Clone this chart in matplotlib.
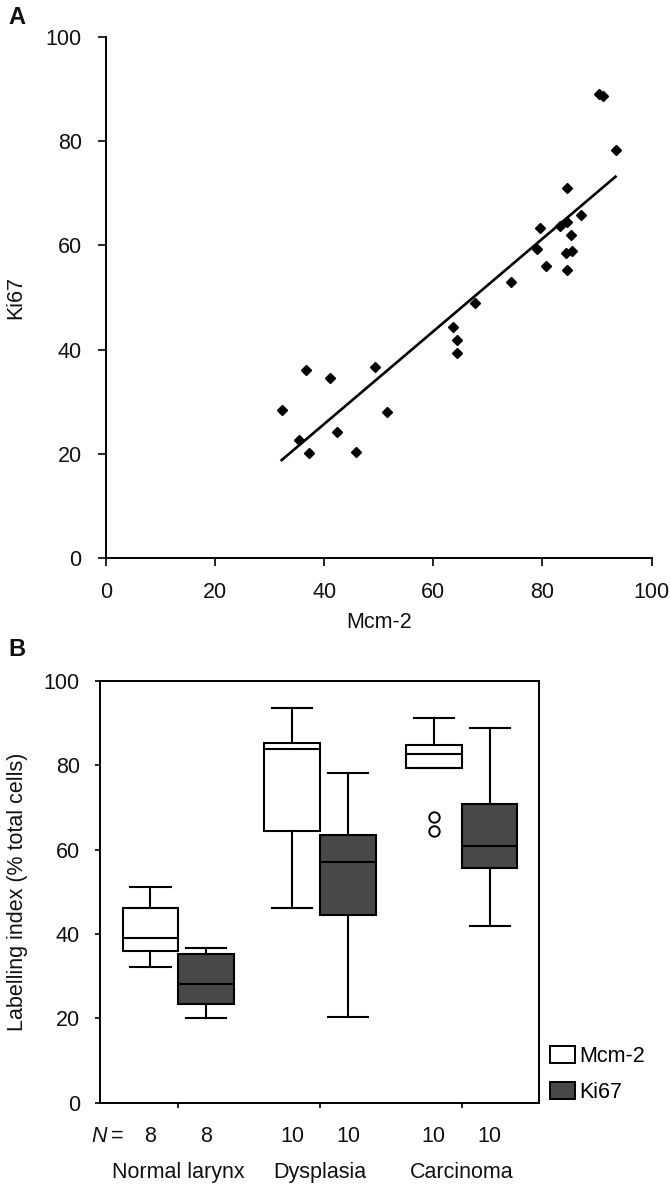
import numpy as np
import matplotlib
matplotlib.use("Agg")
import matplotlib.pyplot as plt
from matplotlib.patches import Patch

plt.rcParams['font.family'] = ['Liberation Sans', 'DejaVu Sans']

# ---------------- Panel A data ----------------
mcm2 = [36.7, 41.1, 49.3, 32.2, 51.5, 42.4, 35.4, 37.2, 45.8,
        64.3, 64.4, 63.6, 67.6, 74.2,
        90.3, 91.1, 93.4, 84.6, 87.1, 79.6, 83.2, 84.6, 85.2,
        79.1, 84.3, 85.5, 80.6, 84.5]
ki67 = [36.1, 34.5, 36.7, 28.5, 28.0, 24.2, 22.6, 20.1, 20.3,
        41.8, 39.4, 44.3, 49.0, 52.9,
        89.0, 88.7, 78.3, 71.0, 65.8, 63.3, 63.7, 64.5, 61.9,
        59.3, 58.5, 58.9, 56.0, 55.2]
axis_ticks = [0, 20, 40, 60, 80, 100]

# ---------------- Panel B data ----------------
groups = ["Normal larynx", "Dysplasia", "Carcinoma"]
n_values = ["8", "8", "10", "10", "10", "10"]
series = ["Mcm-2", "Ki67"]
# whislo, q1, median, q3, whishi for each group
mcm2_stats = [[32.2, 35.9, 39.1, 46.1, 51.2],
              [46.1, 64.4, 83.8, 85.3, 93.5],
              [79.2, 79.2, 82.6, 84.7, 91.2]]
ki67_stats = [[20.0, 23.5, 28.2, 35.3, 36.6],
              [20.3, 44.4, 57.0, 63.4, 78.1],
              [41.9, 55.6, 60.8, 70.9, 88.7]]
mcm2_outliers = [[], [], [67.8, 64.5]]
ki67_outliers = [[], [], []]

txt = '#111111'
fig = plt.figure(figsize=(6.7, 11.85), dpi=100)
fs = 15.5

# ---------------- Panel A ----------------
axA = fig.add_axes([0.1582, 0.5291, 0.8142, 0.4397])
axA.plot(mcm2, ki67, linestyle='none', marker='D', markersize=5.5,
         color='black')
slope, intercept = np.polyfit(mcm2, ki67, 1)
xl = np.array([min(mcm2), max(mcm2)])
axA.plot(xl, slope * xl + intercept, color='black', lw=1.9)
axA.set_xlim(0, 100)
axA.set_ylim(0, 100)
axA.set_xticks(axis_ticks)
axA.set_yticks(axis_ticks)
for s in ['top', 'right']:
    axA.spines[s].set_visible(False)
for s in ['left', 'bottom']:
    axA.spines[s].set_linewidth(1.4)
axA.tick_params(direction='out', length=5.5, width=1.3, pad=12,
                labelsize=fs, colors=txt)
axA.set_xlabel("Mcm-2", fontsize=fs, color=txt)
axA.set_ylabel("Ki67", fontsize=fs, color=txt)
axA.xaxis.set_label_coords(0.5, -0.104)
axA.yaxis.set_label_coords(-0.146, 0.5)
fig.text(0.012, 0.985, "A", fontsize=17, fontweight='bold', va='center',
         ha='left', color=txt)

# ---------------- Panel B ----------------
axB = fig.add_axes([0.1493, 0.06945, 0.6557, 0.3561])
width = 0.393
off = 0.197
pos = np.arange(1, len(groups) + 1)
keys = ['whislo', 'q1', 'med', 'q3', 'whishi']


def make_stats(stats, outl):
    out = []
    for st, fl in zip(stats, outl):
        d = dict(zip(keys, st))
        d['fliers'] = fl
        out.append(d)
    return out


box_lw = 1.5
common = dict(widths=width, capwidths=0.283, patch_artist=True,
              whiskerprops=dict(color='black', lw=box_lw),
              capprops=dict(color='black', lw=box_lw),
              medianprops=dict(color='black', lw=box_lw),
              flierprops=dict(marker='o', markerfacecolor='none',
                              markeredgecolor='black', markersize=7.5,
                              markeredgewidth=1.4))
axB.bxp(make_stats(mcm2_stats, mcm2_outliers), positions=pos - off,
        boxprops=dict(facecolor='white', edgecolor='black', lw=box_lw),
        **common)
axB.bxp(make_stats(ki67_stats, ki67_outliers), positions=pos + off,
        boxprops=dict(facecolor='#484848', edgecolor='black', lw=box_lw),
        **common)
axB.set_xlim(0.447, 3.548)
axB.set_ylim(0, 100)
axB.set_yticks(axis_ticks)
axB.set_xticks(pos)
axB.set_xticklabels([])
for s in axB.spines.values():
    s.set_linewidth(1.4)
axB.tick_params(direction='out', length=3.5, width=1.3, pad=11,
                labelsize=fs, colors=txt)
axB.set_ylabel("Labelling index (% total cells)", fontsize=fs, color=txt)
axB.yaxis.set_label_coords(-0.163, 0.5)

allpos = np.ravel(np.column_stack([pos - off, pos + off]))
for x, n in zip(allpos, n_values):
    axB.annotate(n, xy=(x, 0), xycoords=('data', 'axes fraction'),
                 xytext=(0, -24), textcoords='offset points',
                 ha='center', va='center', fontsize=fs, color=txt)
for x, g in zip(pos, groups):
    axB.annotate(g, xy=(x, 0), xycoords=('data', 'axes fraction'),
                 xytext=(0, -50), textcoords='offset points',
                 ha='center', va='center', fontsize=fs, color=txt)
axB.annotate("N", xy=(0, 0), xycoords='axes fraction',
             xytext=(-6.0, -24), textcoords='offset points',
             ha='left', va='center', fontsize=fs, color=txt,
             fontstyle='italic')
axB.annotate("=", xy=(0, 0), xycoords='axes fraction',
             xytext=(8.0, -24), textcoords='offset points',
             ha='left', va='center', fontsize=fs, color=txt)
fig.text(0.012, 0.452, "B", fontsize=17, fontweight='bold', va='center',
         ha='left', color=txt)

handles = [Patch(facecolor='white', edgecolor='black', lw=1.4),
           Patch(facecolor='#484848', edgecolor='black', lw=1.4)]
fig.legend(handles, series, loc='upper left',
           bbox_to_anchor=(0.811, 0.123), frameon=False, fontsize=fs,
           handlelength=1.15, handleheight=0.85, handletextpad=0.2,
           labelspacing=0.7, borderaxespad=0, borderpad=0.3)

fig.savefig("out.png", dpi=100)
